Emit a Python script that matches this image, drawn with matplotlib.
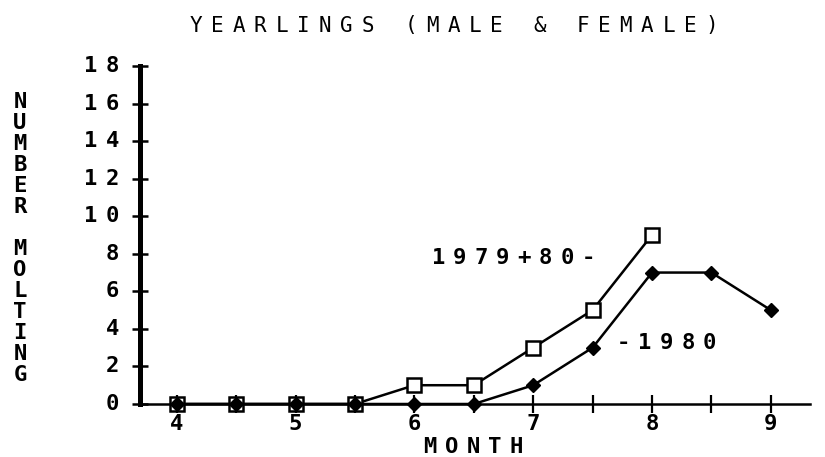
import matplotlib
matplotlib.use("Agg")
import matplotlib.pyplot as plt
from matplotlib.transforms import offset_copy, blended_transform_factory

# data
months_both = [4, 4.5, 5, 5.5, 6, 6.5, 7, 7.5, 8]
molting_both = [0, 0, 0, 0, 1, 1, 3, 5, 9]          # 1979+80
months_1980 = [4, 4.5, 5, 5.5, 6, 6.5, 7, 7.5, 8, 8.5, 9]
molting_1980 = [0, 0, 0, 0, 0, 0, 1, 3, 7, 7, 5]

x_ticks = [4, 5, 6, 7, 8, 9]
x_minor = [4.5, 5.5, 6.5, 7.5, 8.5]
x_labels = ["4", "5", "6", "7", "8", "9"]
y_ticks = [0, 2, 4, 6, 8, 10, 12, 14, 16, 18]
y_labels = ["0", "2", "4", "6", "8", "10", "12", "14", "16", "18"]

title = "YEARLINGS (MALE & FEMALE)"
xlab = "MONTH"
ylab = "NUMBER MOLTING"
lab_both = "1979+80-"
lab_1980 = "-1980"

FONT = "DejaVu Sans Mono"
PITCH = 21.5  # px per character, the printer font is very wide

fig = plt.figure(figsize=(8.25, 4.57), dpi=100)
W, H = 825, 457
ax = fig.add_axes([140 / W, 1 - 404 / H, 670 / W, 338 / H])


def wide_text(x, y, s, transform, size=16, ha="left", pitch=PITCH, weight="bold"):
    # draw a string one char at a time so the spacing looks like the plotter font
    n = len(s)
    start = {"left": 0, "center": -n * pitch / 2, "right": -n * pitch}[ha]
    for i, ch in enumerate(s):
        if ch == " ":
            continue
        tr = offset_copy(transform, fig=fig, x=start + (i + 0.5) * pitch, y=0, units="dots")
        fig.text(x, y, ch, transform=tr, ha="center", va="center",
                 fontsize=size, family=FONT, weight=weight, color="black")


ax.plot(months_both, molting_both, color="black", lw=1.8, marker="s", ms=10,
        mfc="white", mec="black", mew=1.8, zorder=3, clip_on=False)
ax.plot(months_1980, molting_1980, color="black", lw=1.8, marker="D", ms=7,
        mfc="black", mec="black", zorder=4, clip_on=False)

ax.set_xlim(3.69, 9.33)
ax.set_ylim(0, 18)

for s in ["top", "right"]:
    ax.spines[s].set_visible(False)
ax.spines["left"].set_linewidth(3.6)
ax.spines["bottom"].set_linewidth(1.8)

ax.set_xticks(x_ticks + x_minor)
ax.set_yticks(y_ticks)
ax.tick_params(axis="x", direction="inout", length=13, width=1.6, labelbottom=False)
ax.tick_params(axis="y", direction="inout", length=12, width=1.8, labelleft=False)

# tick labels
tr_x = blended_transform_factory(ax.transData, ax.transAxes)
for xv, lab in zip(x_ticks, x_labels):
    wide_text(xv, 0, lab, offset_copy(tr_x, fig=fig, y=-20, units="dots"), ha="center")
tr_y = blended_transform_factory(ax.transAxes, ax.transData)
for yv, lab in zip(y_ticks, y_labels):
    wide_text(0, yv, lab, offset_copy(tr_y, fig=fig, x=-17, units="dots"), ha="right")

# series labels
wide_text(6.11, 7.8, lab_both, ax.transData)
wide_text(7.67, 3.25, lab_1980, ax.transData)

# title and axis labels
wide_text(185 / W, 1 - 25.5 / H, title, fig.transFigure, size=15, weight="normal")
wide_text(473 / W, 1 - 447 / H, xlab, fig.transFigure, ha="center")
for i, ch in enumerate(ylab):
    if ch == " ":
        continue
    fig.text(20 / W, 1 - (102 + 21 * i) / H, ch, ha="center", va="center",
             fontsize=16, family=FONT, weight="bold")

fig.savefig("out.png", dpi=100)
